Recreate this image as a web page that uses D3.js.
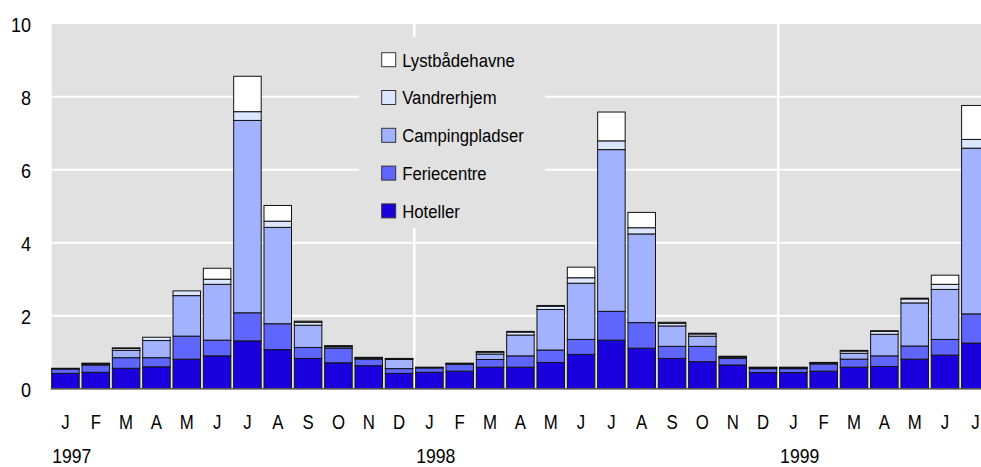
<!DOCTYPE html>
<html>
<head>
<meta charset="utf-8">
<script src="https://cdn.jsdelivr.net/npm/d3@7"></script>
<style>
  html, body { margin: 0; padding: 0; background: #fff; }
  svg { display: block; }
  text { font-family: "Liberation Sans", Arial, sans-serif; fill: #000; }
</style>
</head>
<body>
<svg id="chart" width="981" height="467"></svg>
<script>
// ---- Data (million overnight stays) ----
const monthLabels = ["J","F","M","A","M","J","J","A","S","O","N","D",
                     "J","F","M","A","M","J","J","A","S","O","N","D",
                     "J","F","M","A","M","J","J"];
const yearLabels = ["1997", "1998", "1999"];
const seriesNames = ["Hoteller", "Feriecentre", "Campingpladser", "Vandrerhjem", "Lystbådehavne"];
const seriesColors = ["#1900dd", "#5f66fe", "#a2b2ff", "#dde6ff", "#ffffff"];

const hoteller       = [0.42,0.45,0.56,0.60,0.81,0.90,1.31,1.07,0.83,0.71,0.63,0.42,
                        0.45,0.48,0.59,0.59,0.72,0.94,1.33,1.11,0.83,0.74,0.65,0.44,
                        0.44,0.48,0.59,0.61,0.81,0.92,1.25];
const feriecentre    = [0.12,0.20,0.29,0.25,0.63,0.43,0.77,0.71,0.30,0.40,0.18,0.13,
                        0.12,0.19,0.21,0.31,0.34,0.41,0.79,0.70,0.33,0.42,0.18,0.11,
                        0.11,0.20,0.22,0.29,0.36,0.43,0.80];
const campingpladser = [0.01,0.03,0.20,0.47,1.11,1.53,5.27,2.64,0.61,0.04,0.02,0.25,
                        0.01,0.01,0.15,0.57,1.11,1.54,4.43,2.43,0.56,0.28,0.03,0.02,
                        0.02,0.02,0.16,0.59,1.18,1.37,4.54];
const vandrerhjem    = [0.01,0.01,0.05,0.09,0.13,0.14,0.24,0.17,0.08,0.02,0.02,0.02,
                        0.01,0.01,0.05,0.08,0.09,0.15,0.24,0.17,0.07,0.06,0.02,0.01,
                        0.01,0.01,0.06,0.08,0.11,0.14,0.24];
const lystbaadehavne = [0.00,0.01,0.02,0.00,0.00,0.30,0.97,0.43,0.03,0.01,0.01,0.01,
                        0.00,0.01,0.02,0.02,0.02,0.29,0.79,0.42,0.03,0.02,0.01,0.01,
                        0.01,0.01,0.02,0.02,0.02,0.25,0.93];
const yTicks = [0, 2, 4, 6, 8, 10];

// ---- Build table for d3.stack ----
const seriesArrays = [hoteller, feriecentre, campingpladser, vandrerhjem, lystbaadehavne];
const table = monthLabels.map((m, i) => {
  const row = { idx: i, month: m };
  seriesNames.forEach((s, k) => row[s] = seriesArrays[k][i]);
  return row;
});

const svg = d3.select("#chart");
const W = 981, H = 467;
const plotLeft = 51.7, plotTop = 24, plotBase = 388.7;

const step = 30.33, pIn = 0.093;
const x = d3.scaleBand()
  .domain(d3.range(monthLabels.length))
  .range([plotLeft, plotLeft + step * (monthLabels.length - pIn)])
  .paddingInner(pIn).paddingOuter(0);

const y = d3.scaleLinear().domain([0, 10]).range([plotBase, plotBase - 36.5 * 10]);

// Plot background
svg.append("rect").attr("x", plotLeft).attr("y", plotTop)
  .attr("width", W - plotLeft).attr("height", plotBase - plotTop).attr("fill", "#e1e1e1");

// Horizontal gridlines
svg.append("g").selectAll("line").data(yTicks.filter(t => t > 0 && t < 10)).join("line")
  .attr("x1", plotLeft).attr("x2", W)
  .attr("y1", d => y(d)).attr("y2", d => y(d))
  .attr("stroke", "#fff").attr("stroke-width", 2);

// Vertical gridlines between years
const yearStarts = yearLabels.map((_, i) => i * 12);
svg.append("g").selectAll("line").data(yearStarts.slice(1)).join("line")
  .attr("x1", d => x(d) - x.step() * pIn / 2).attr("x2", d => x(d) - x.step() * pIn / 2)
  .attr("y1", plotTop).attr("y2", plotBase)
  .attr("stroke", "#fff").attr("stroke-width", 2.5);

// Legend background (covers gridlines)
svg.append("rect").attr("x", 359).attr("y", 37).attr("width", 186).attr("height", 191)
  .attr("fill", "#e1e1e1");

// Stacked bars
const stack = d3.stack().keys(seriesNames);
const layers = stack(table);
svg.append("g").selectAll("g").data(layers).join("g")
  .attr("fill", (d, i) => seriesColors[i])
  .selectAll("rect").data(d => d).join("rect")
  .attr("x", d => x(d.data.idx))
  .attr("width", x.bandwidth())
  .attr("y", d => y(d[1]))
  .attr("height", d => Math.max(0, y(d[0]) - y(d[1])))
  .attr("stroke", "#111").attr("stroke-width", 1);

// Baseline
svg.append("line").attr("x1", plotLeft - 1).attr("x2", W)
  .attr("y1", plotBase).attr("y2", plotBase)
  .attr("stroke", "#555").attr("stroke-width", 1.5);

// Y axis
const yAxis = d3.axisLeft(y).tickValues(yTicks).tickSize(0).tickPadding(0);
const yg = svg.append("g").attr("transform", "translate(31,0)").call(yAxis);
yg.select(".domain").remove();
yg.selectAll("text").attr("font-size", 21).attr("dy", "0.36em")
  .attr("transform", "scale(0.86,1)")
  .style("font-family", "'Liberation Sans', Arial, sans-serif");

// X axis month labels
const xAxis = d3.axisBottom(x).tickFormat(i => monthLabels[i]).tickSize(0).tickPadding(0);
const xg = svg.append("g").attr("transform", "translate(0,414.3)").call(xAxis);
xg.select(".domain").remove();
xg.selectAll("text").attr("font-size", 20.5).attr("dy", "0.72em")
  .attr("transform", "scale(0.82,1)")
  .style("font-family", "'Liberation Sans', Arial, sans-serif");

// Year labels
svg.append("g").selectAll("text").data(yearLabels).join("text")
  .attr("transform", (d, i) => `translate(${x(yearStarts[i]) + 0.5},463) scale(0.86,1)`)
  .attr("font-size", 20.5)
  .text(d => d);

// Legend
const legendOrder = seriesNames.map((s, i) => i).reverse();
const lg = svg.append("g").selectAll("g").data(legendOrder).join("g")
  .attr("transform", (d, j) => `translate(381.7, ${52.7 + j * 37.8})`);
lg.append("rect").attr("width", 14).attr("height", 14)
  .attr("fill", d => seriesColors[d]).attr("stroke", "#333").attr("stroke-width", 1);
lg.append("text")
  .attr("transform", "translate(20.5,7) scale(0.88,1)")
  .attr("dy", "0.36em")
  .attr("font-size", 19).text(d => seriesNames[d]);
</script>
</body>
</html>
